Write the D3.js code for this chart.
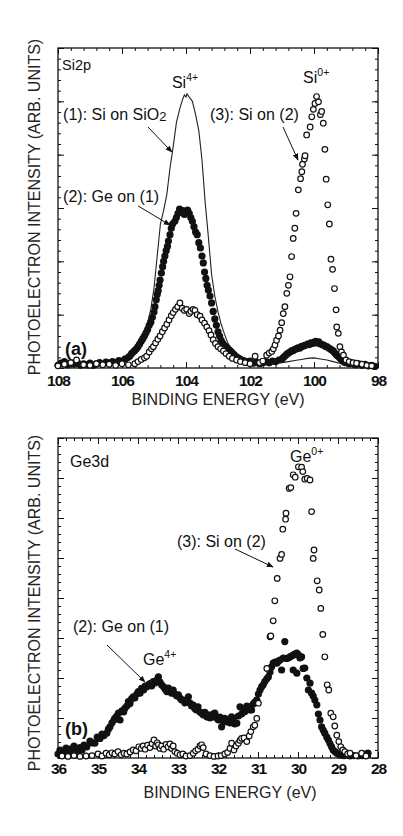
<!DOCTYPE html>
<html>
<head>
<meta charset="utf-8">
<script src="https://cdn.jsdelivr.net/npm/d3@7"></script>
<style>
  body { margin: 0; background: #fff; }
  svg { display: block; }
</style>
</head>
<body>
<div class="fig"></div>
<script>
var width = 403
var height = 836
var font = "'Liberation Sans', Arial, Helvetica, sans-serif"

// ---------- panel (a) Si2p : [binding energy eV, intensity] ----------
var siTicks = [108, 106, 104, 102, 100, 98]

// (1) Si on SiO2 - solid line
var siLine = [[108,0.08],[107.8,0.1],[107.6,0.07],[107.4,0.09],[107.2,0.08],[107,0.1],[106.8,0.09],[106.6,0.1],
  [106.4,0.11],[106.2,0.12],[106,0.15],[105.9,0.18],[105.8,0.22],[105.7,0.28],[105.6,0.36],[105.5,0.45],[105.4,0.55],
  [105.3,0.68],[105.2,0.85],[105.1,1.1],[105.0,1.5],[104.95,1.8],[104.9,2.1],[104.85,2.4],[104.8,2.7],[104.7,2.95],
  [104.6,3.25],[104.5,3.75],[104.45,3.95],[104.4,4.15],[104.3,4.6],[104.2,4.85],[104.1,5.05],[104.05,5.12],[104.0,5.08],
  [103.97,5.14],[103.9,5.08],[103.8,5.0],[103.7,4.75],[103.6,4.45],[103.5,3.9],[103.45,3.5],[103.4,3.1],[103.33,2.65],
  [103.25,2.1],[103.2,1.75],[103.1,1.35],[103.0,1.05],[102.9,0.82],[102.8,0.64],[102.7,0.48],[102.6,0.36],[102.5,0.28],
  [102.4,0.22],[102.2,0.14],[102,0.1],[101.8,0.08],[101.6,0.07],[101.4,0.08],[101.2,0.09],[101,0.1],[100.8,0.12],
  [100.6,0.14],[100.4,0.16],[100.2,0.18],[100.0,0.19],[99.8,0.17],[99.6,0.15],[99.4,0.12],[99.2,0.09],[99,0.07],
  [98.8,0.06],[98.6,0.05],[98.4,0.05],[98.2,0.05],[98,0.04]]

// (2) Ge on (1) - filled circles
var siFilled = [[108.0,0.05],[107.9,0.09],[107.8,0.12],[107.7,0.06],[107.6,0.1],[107.5,0.07],[107.4,0.11],[107.3,0.05],
  [107.2,0.08],[107.1,0.06],[107.0,0.09],[106.9,0.05],[106.8,0.08],[106.7,0.1],[106.6,0.07],[106.5,0.11],[106.4,0.09],
  [106.3,0.12],[106.2,0.1],[106.1,0.14],[106.0,0.13],[105.9,0.17],[105.8,0.2],[105.75,0.23],[105.7,0.27],[105.65,0.3],
  [105.6,0.33],[105.55,0.36],[105.5,0.4],[105.45,0.45],[105.4,0.5],[105.35,0.55],[105.3,0.6],[105.25,0.66],[105.2,0.72],
  [105.15,0.8],[105.1,0.86],[105.05,0.95],[105.0,1.05],[104.97,1.15],[104.93,1.28],[104.9,1.38],[104.87,1.45],
  [104.84,1.55],[104.81,1.65],[104.77,1.78],[104.73,1.9],[104.7,2.0],[104.66,2.1],[104.62,2.2],[104.58,2.28],
  [104.55,2.38],[104.5,2.5],[104.46,2.62],[104.42,2.7],[104.35,2.75],[104.3,2.82],[104.25,2.9],[104.2,2.98],
  [104.15,2.92],[104.1,2.95],[104.05,2.88],[104.0,2.93],[103.95,2.96],[103.9,2.9],[103.85,2.82],[103.8,2.75],
  [103.75,2.65],[103.7,2.55],[103.65,2.5],[103.6,2.35],[103.55,2.25],[103.5,2.1],[103.46,1.97],[103.42,1.8],
  [103.38,1.68],[103.34,1.55],[103.3,1.46],[103.25,1.35],[103.2,1.22],[103.15,1.06],[103.1,0.92],[103.05,0.8],
  [103.0,0.68],[102.95,0.6],[102.9,0.52],[102.85,0.46],[102.8,0.42],[102.75,0.4],[102.7,0.37],[102.65,0.34],
  [102.6,0.31],[102.55,0.28],[102.5,0.25],[102.45,0.22],[102.4,0.2],[102.35,0.18],[102.3,0.16],[102.2,0.14],
  [102.1,0.12],[102.0,0.13],[101.9,0.09],[101.8,0.11],[101.7,0.08],[101.6,0.1],[101.5,0.12],[101.4,0.1],[101.3,0.13],
  [101.2,0.12],[101.1,0.15],[101.0,0.17],[100.95,0.2],[100.9,0.23],[100.85,0.26],[100.8,0.28],[100.75,0.3],[100.7,0.32],
  [100.65,0.33],[100.6,0.35],[100.55,0.36],[100.5,0.38],[100.45,0.37],[100.4,0.4],[100.35,0.41],[100.3,0.42],
  [100.25,0.43],[100.2,0.45],[100.15,0.44],[100.1,0.47],[100.05,0.46],[100.0,0.48],[99.95,0.5],[99.9,0.47],
  [99.85,0.49],[99.8,0.45],[99.75,0.44],[99.7,0.43],[99.65,0.41],[99.6,0.4],[99.55,0.38],[99.5,0.36],[99.45,0.34],
  [99.4,0.32],[99.35,0.28],[99.3,0.25],[99.25,0.22],[99.2,0.19],[99.15,0.16],[99.1,0.13],[99.05,0.11],[99.0,0.1],
  [98.9,0.08],[98.8,0.09],[98.7,0.06],[98.6,0.08],[98.5,0.05],[98.4,0.07],[98.3,0.04],[98.2,0.05],[98.1,0.03]]

// (3) Si on (2) - open circles
var siOpen = [[108,0.04],[107.8,0.07],[107.6,0.1],[107.42,0.15],[107.2,0.06],[107,0.05],[106.8,0.08],[106.6,0.06],
  [106.4,0.07],[106.2,0.05],[106,0.08],[105.8,0.06],[105.6,0.08],[105.5,0.12],[105.4,0.16],[105.3,0.19],[105.23,0.22],
  [105.15,0.3],[105.08,0.36],[105.02,0.4],[104.95,0.47],[104.88,0.54],[104.81,0.6],[104.74,0.68],[104.67,0.75],
  [104.6,0.82],[104.53,0.9],[104.46,0.98],[104.4,1.04],[104.33,1.1],[104.26,1.15],[104.19,1.22],[104.12,1.12],
  [104.05,1.08],[103.98,1.1],[103.9,1.02],[103.85,1.06],[103.78,1.1],[103.72,1.08],[103.65,1.0],[103.56,0.97],
  [103.5,0.9],[103.42,0.84],[103.35,0.77],[103.28,0.7],[103.22,0.62],[103.15,0.53],[103.08,0.46],[103.0,0.4],
  [102.92,0.36],[102.83,0.32],[102.75,0.27],[102.65,0.22],[102.55,0.18],[102.42,0.15],[102.3,0.12],[102.15,0.1],
  [102.0,0.08],[101.84,0.22],[101.7,0.1],[101.6,0.13],[101.48,0.24],[101.4,0.28],[101.32,0.31],[101.27,0.36],
  [101.22,0.43],[101.17,0.52],[101.11,0.6],[101.06,0.71],[101.01,0.85],[100.96,1.02],[100.91,1.15],[100.85,1.4],
  [100.8,1.55],[100.75,1.71],[100.7,2.09],[100.65,2.43],[100.6,2.62],[100.56,2.9],[100.49,3.34],[100.42,3.55],
  [100.38,3.68],[100.36,3.82],[100.3,3.92],[100.28,3.98],[100.23,4.37],[100.12,4.52],[100.07,4.71],[100.02,4.85],
  [99.97,4.96],[99.92,5.09],[99.86,4.99],[99.8,4.75],[99.76,4.81],[99.71,4.59],[99.66,4.1],[99.62,3.54],[99.57,3.06],
  [99.52,2.7],[99.47,2.04],[99.42,1.85],[99.36,1.49],[99.31,1.09],[99.29,0.77],[99.24,0.65],[99.19,0.4],[99.14,0.3],
  [99.08,0.24],[99.0,0.15],[98.9,0.12],[98.78,0.1],[98.67,0.09],[98.5,0.07],[98.35,0.05],[98.2,0.04]]

// ---------- panel (b) Ge3d ----------
var geTicks = [36, 35, 34, 33, 32, 31, 30, 29, 28]

// (2) Ge on (1) - filled circles
var geFilled = [[36.0,0.1],[35.95,0.2],[35.9,0.08],[35.85,0.16],[35.8,0.25],[35.75,0.12],[35.7,0.22],[35.66,0.2],
  [35.6,0.3],[35.55,0.18],[35.5,0.12],[35.45,0.26],[35.4,0.2],[35.35,0.32],[35.28,0.28],[35.2,0.42],[35.15,0.38],
  [35.08,0.37],[35.02,0.52],[34.95,0.49],[34.9,0.6],[34.85,0.56],[34.78,0.62],[34.74,0.72],[34.7,0.78],[34.65,0.88],
  [34.6,0.95],[34.58,0.99],[34.53,1.05],[34.49,1.12],[34.45,0.95],[34.4,1.18],[34.36,1.15],[34.33,1.24],[34.28,1.3],
  [34.24,1.41],[34.2,1.36],[34.16,1.48],[34.12,1.53],[34.08,1.5],[34.03,1.6],[33.99,1.66],[33.95,1.62],[33.91,1.74],
  [33.86,1.7],[33.82,1.8],[33.78,1.78],[33.74,1.83],[33.7,1.86],[33.66,1.8],[33.62,1.91],[33.57,1.88],[33.53,1.95],
  [33.49,2.03],[33.45,1.9],[33.41,1.83],[33.36,1.78],[33.32,1.72],[33.28,1.66],[33.24,1.75],[33.2,1.68],[33.16,1.62],
  [33.12,1.7],[33.08,1.6],[33.03,1.55],[32.99,1.58],[32.95,1.5],[32.91,1.45],[32.87,1.45],[32.83,1.38],[32.78,1.42],
  [32.74,1.53],[32.7,1.37],[32.66,1.3],[32.62,1.32],[32.58,1.24],[32.54,1.2],[32.5,1.28],[32.45,1.15],[32.41,1.12],
  [32.37,1.08],[32.33,1.14],[32.28,1.03],[32.24,1.08],[32.2,1.0],[32.16,1.03],[32.12,1.1],[32.08,1.12],[32.04,1.0],
  [31.99,0.95],[31.95,1.02],[31.91,0.78],[31.87,0.92],[31.83,0.99],[31.78,0.9],[31.74,0.96],[31.7,0.88],[31.66,1.03],
  [31.62,0.95],[31.58,0.85],[31.53,0.87],[31.49,1.05],[31.45,1.28],[31.41,1.1],[31.37,1.22],[31.33,1.16],[31.28,1.3],
  [31.24,1.28],[31.2,1.2],[31.16,1.2],[31.12,1.35],[31.08,1.4],[31.03,1.45],[30.99,1.6],[30.95,1.7],[30.91,1.78],
  [30.87,1.83],[30.83,1.91],[30.78,1.98],[30.74,2.03],[30.7,2.15],[30.66,2.28],[30.62,2.37],[30.57,2.4],[30.53,2.37],
  [30.49,2.42],[30.45,2.45],[30.41,2.2],[30.37,2.5],[30.33,2.91],[30.29,2.49],[30.24,2.5],[30.2,2.53],[30.16,2.55],
  [30.12,2.57],[30.12,2.2],[30.08,2.6],[30.03,2.62],[30.03,2.12],[29.99,2.58],[29.95,2.5],[29.91,2.53],[29.87,2.24],
  [29.83,2.25],[29.78,2.0],[29.74,1.7],[29.7,1.87],[29.66,1.62],[29.62,1.55],[29.58,1.45],[29.53,1.33],[29.49,1.1],
  [29.45,0.95],[29.41,0.78],[29.37,0.7],[29.33,0.62],[29.28,0.52],[29.24,0.45],[29.2,0.36],[29.16,0.28],[29.12,0.2],
  [29.08,0.16],[29.03,0.12],[28.99,0.1],[28.95,0.08],[28.91,0.08],[28.85,0.06],[28.8,0.1],[28.7,0.05],[28.6,0.06],
  [28.5,0.05],[28.4,0.06],[28.32,0.1],[28.28,0.08],[28.25,0.12]]

// (3) Si on (2) - open circles
var geOpen = [[35.9,0.05],[35.75,0.04],[35.6,0.06],[35.45,0.04],[35.3,0.05],[35.15,0.06],[35.0,0.1],[34.9,0.05],
  [34.8,0.12],[34.72,0.08],[34.65,0.13],[34.58,0.1],[34.5,0.16],[34.42,0.08],[34.35,0.12],[34.28,0.1],[34.2,0.15],
  [34.12,0.2],[34.05,0.18],[33.98,0.28],[33.92,0.24],[33.87,0.3],[33.82,0.22],[33.76,0.32],[33.7,0.26],[33.65,0.36],
  [33.6,0.45],[33.56,0.3],[33.52,0.38],[33.49,0.33],[33.45,0.24],[33.41,0.3],[33.36,0.22],[33.3,0.34],[33.25,0.28],
  [33.2,0.35],[33.16,0.24],[33.12,0.3],[33.08,0.16],[33.02,0.12],[32.95,0.08],[32.88,0.1],[32.8,0.05],[32.7,0.06],
  [32.62,0.12],[32.56,0.18],[32.5,0.22],[32.45,0.3],[32.41,0.33],[32.37,0.26],[32.3,0.1],[32.2,0.06],[32.1,0.04],
  [32.0,0.05],[31.92,0.06],[31.83,0.1],[31.76,0.14],[31.7,0.24],[31.66,0.37],[31.6,0.2],[31.55,0.3],[31.49,0.37],
  [31.45,0.44],[31.41,0.49],[31.35,0.5],[31.28,0.41],[31.22,0.55],[31.18,0.66],[31.12,0.78],[31.08,0.82],[31.03,0.99],
  [30.99,1.37],[30.78,2.24],[30.7,3.03],[30.68,3.05],[30.62,3.43],[30.58,3.93],[30.52,4.49],[30.45,4.99],[30.41,5.09],
  [30.38,5.72],[30.31,5.97],[30.3,6.12],[30.22,6.74],[30.18,6.76],[30.12,7.08],[30.07,7.02],[29.99,7.28],[29.91,7.27],
  [29.88,7.16],[29.83,6.97],[29.77,6.99],[29.7,6.95],[29.66,6.16],[29.62,4.99],[29.6,5.2],[29.52,4.43],[29.47,4.2],
  [29.43,3.74],[29.38,3.09],[29.33,2.53],[29.27,1.83],[29.23,1.7],[29.18,1.12],[29.12,1.03],[29.08,0.8],[29.03,0.57],
  [28.98,0.41],[28.93,0.28],[28.88,0.2],[28.83,0.16],[28.76,0.1],[28.7,0.12],[28.55,0.06],[28.41,0.12],[28.3,0.05]]

var xTitle = "BINDING ENERGY (eV)"
var yTitle = "PHOTOELECTRON INTENSITY (ARB. UNITS)"

// layout of the two panels; annotation anchors are in data units
var panels = [
  {
    left: 58, right: 378, top: 48, bottom: 368,
    dom: [108, 98], yMax: 6, xMinor: 0.4, yMinor: 0.2,
    ticks: siTicks, tickPad: 7, titleX: 218, titleY: 405, yTitleY: 207,
    line: siLine, filled: siFilled, open: siOpen,
    notes: [
      {t: "Si2p", e: 107.875, i: 5.59, size: 14.5},
      {t: "Si", sup: "4+", e: 104.44, i: 5.25, size: 16},
      {t: "Si", sup: "0+", e: 100.34, i: 5.34, size: 16},
      {t: "(1): Si on SiO", sub: "2", e: 107.84, i: 4.65, size: 16},
      {t: "(3): Si on (2)", e: 103.25, i: 4.65, size: 16},
      {t: "(2): Ge on (1)", e: 107.84, i: 3.11, size: 16},
      {t: "(a)", e: 107.78, i: 0.24, size: 18, bold: true}
    ],
    arrows: [[105.19, 4.52, 104.44, 4.05], [100.97, 4.52, 100.5, 3.9], [105.5, 3.04, 104.5, 2.68]]
  },
  {
    left: 58, right: 378, top: 438, bottom: 758,
    dom: [36, 28], yMax: 8, xMinor: 0.2, yMinor: 0.2,
    ticks: geTicks, tickPad: 5, titleX: 230, titleY: 798, yTitleY: 603,
    line: null, filled: geFilled, open: geOpen,
    notes: [
      {t: "Ge3d", e: 35.7, i: 7.275, size: 16},
      {t: "Ge", sup: "0+", e: 30.2, i: 7.4, size: 16},
      {t: "(3): Si on (2)", e: 33.025, i: 5.275, size: 16},
      {t: "(2): Ge on (1)", e: 35.625, i: 3.15, size: 16},
      {t: "Ge", sup: "4+", e: 33.875, i: 2.325, size: 16},
      {t: "(b)", e: 35.825, i: 0.575, size: 18, bold: true}
    ],
    arrows: [[31.575, 5.225, 30.625, 4.775], [34.775, 2.825, 33.825, 1.9]]
  }
]

var svg = d3.select(".fig").append("svg")
    .attr("width", width)
    .attr("height", height)
    .style("font-family", font)

svg.append("rect").attr("width", width).attr("height", height).attr("fill", "#fff")

svg.append("defs").append("marker")
    .attr("id", "arrow")
    .attr("viewBox", "0 0 10 10")
    .attr("refX", 9).attr("refY", 5)
    .attr("markerWidth", 7).attr("markerHeight", 7)
    .attr("orient", "auto")
  .append("path")
    .attr("d", "M0,1L10,5L0,9z")
    .attr("fill", "#111")

function tickSet(g, axis, size){
  g.call(axis.tickSize(size).tickSizeOuter(0))
  g.select(".domain").remove()
  g.selectAll(".tick line").attr("stroke", "#111").attr("stroke-width", 1)
}

function drawPanel(p){
  var x = d3.scaleLinear().domain(p.dom).range([p.left, p.right])
  var y = d3.scaleLinear().domain([0, p.yMax]).range([p.bottom, p.top])
  var g = svg.append("g")

  var xMinor = d3.range(p.dom[1], p.dom[0] + 1e-6, p.xMinor)
  var yMinor = d3.range(0, p.yMax + 1e-6, p.yMinor)
  var yMajor = d3.range(0, p.yMax + 1e-6, 1)

  // minor ticks on all four sides, pointing inward
  tickSet(g.append("g").attr("transform", "translate(0," + p.bottom + ")"), d3.axisBottom(x).tickValues(xMinor).tickFormat(""), -3)
  tickSet(g.append("g").attr("transform", "translate(0," + p.top + ")"), d3.axisTop(x).tickValues(xMinor).tickFormat(""), -3)
  tickSet(g.append("g").attr("transform", "translate(" + p.left + ",0)"), d3.axisLeft(y).tickValues(yMinor).tickFormat(""), -3)
  tickSet(g.append("g").attr("transform", "translate(" + p.right + ",0)"), d3.axisRight(y).tickValues(yMinor).tickFormat(""), -3)

  // major ticks
  var bx = g.append("g").attr("transform", "translate(0," + p.bottom + ")")
  tickSet(bx, d3.axisBottom(x).tickValues(p.ticks).tickPadding(p.tickPad).tickFormat(d3.format("d")), -6)
  bx.selectAll("text")
      .attr("font-family", font)
      .attr("font-size", 15.5)
      .attr("font-weight", "bold")
      .attr("letter-spacing", "-1px")
      .attr("fill", "#111")
  tickSet(g.append("g").attr("transform", "translate(0," + p.top + ")"), d3.axisTop(x).tickValues(p.ticks).tickFormat(""), -6)
  tickSet(g.append("g").attr("transform", "translate(" + p.left + ",0)"), d3.axisLeft(y).tickValues(yMajor).tickFormat(""), -6)
  tickSet(g.append("g").attr("transform", "translate(" + p.right + ",0)"), d3.axisRight(y).tickValues(yMajor).tickFormat(""), -6)

  // frame
  g.append("rect")
      .attr("x", p.left).attr("y", p.top)
      .attr("width", p.right - p.left).attr("height", p.bottom - p.top)
      .attr("fill", "none").attr("stroke", "#111").attr("stroke-width", 1.3)

  // data
  var plot = g.append("g")
  if(p.line){
    plot.append("path")
        .datum(p.line)
        .attr("d", d3.line().x(function(d){ return x(d[0]) }).y(function(d){ return y(d[1]) }))
        .attr("fill", "none")
        .attr("stroke", "#222")
        .attr("stroke-width", 1.1)
  }
  plot.selectAll("circle.filled").data(p.filled).enter().append("circle")
      .attr("class", "filled")
      .attr("cx", function(d){ return x(d[0]) })
      .attr("cy", function(d){ return y(d[1]) })
      .attr("r", 3.6)
      .attr("fill", "#111")
  plot.selectAll("circle.open").data(p.open).enter().append("circle")
      .attr("class", "open")
      .attr("cx", function(d){ return x(d[0]) })
      .attr("cy", function(d){ return y(d[1]) })
      .attr("r", 2.8)
      .attr("fill", "#fff")
      .attr("stroke", "#111")
      .attr("stroke-width", 1.2)

  // annotations
  p.arrows.forEach(function(a){
    g.append("line")
        .attr("x1", x(a[0])).attr("y1", y(a[1]))
        .attr("x2", x(a[2])).attr("y2", y(a[3]))
        .attr("stroke", "#111").attr("stroke-width", 1)
        .attr("marker-end", "url(#arrow)")
  })
  p.notes.forEach(function(n){
    var t = g.append("text")
        .attr("x", x(n.e)).attr("y", y(n.i))
        .attr("font-size", n.size)
        .attr("font-weight", n.bold ? "bold" : "normal")
        .attr("fill", "#111")
        .text(n.t)
    if(n.sup) t.append("tspan").attr("dy", -7).attr("font-size", 10.5).text(n.sup)
    if(n.sub) t.append("tspan").attr("dy", 1).attr("font-size", 13).text(n.sub)
  })

  // axis titles
  g.append("text")
      .attr("x", p.titleX).attr("y", p.titleY)
      .attr("text-anchor", "middle")
      .attr("font-size", 16)
      .attr("fill", "#222")
      .text(xTitle)
  g.append("text")
      .attr("transform", "translate(40," + p.yTitleY + ") rotate(-90)")
      .attr("text-anchor", "middle")
      .attr("font-size", 16)
      .attr("fill", "#222")
      .text(yTitle)
}

panels.forEach(drawPanel)
</script>
</body>
</html>
